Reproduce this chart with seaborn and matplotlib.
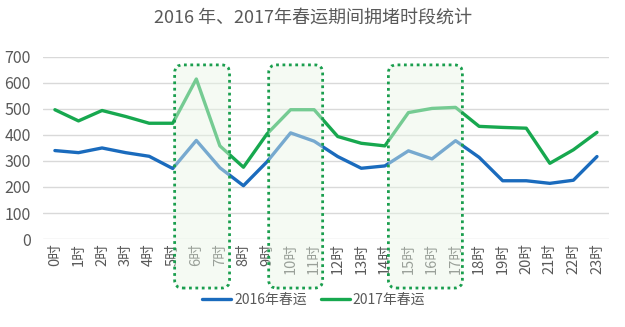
import matplotlib
matplotlib.use("Agg")
import matplotlib.pyplot as plt
import numpy as np
import pandas as pd
import seaborn as sns
from matplotlib.patches import FancyBboxPatch

hours = [f"{h}时" for h in range(24)]
y2016 = [340, 332, 350, 332, 318, 271, 379, 274, 205, 297, 408, 376,
         317, 272, 281, 339, 308, 378, 314, 224, 224, 214, 226, 317]
y2017 = [497, 454, 494, 471, 445, 445, 615, 358, 276, 404, 497, 497,
         394, 368, 358, 486, 502, 506, 433, 429, 426, 291, 343, 410]
series = ["2016年春运", "2017年春运"]
colors = ["#1a6bbd", "#17a84f"]
yticks = [0, 100, 200, 300, 400, 500, 600, 700]
highlight_spans = [(5.08, 7.41), (9.07, 11.36), (14.15, 17.29)]

sns.set_theme(style="whitegrid")
plt.rcParams["font.family"] = ["Noto Sans CJK SC", "DejaVu Sans"]

df = pd.DataFrame({
    "hour": list(range(24)) * 2,
    "value": y2016 + y2017,
    "series": [series[0]] * 24 + [series[1]] * 24,
})

fig = plt.figure(figsize=(6.25, 3.27), dpi=100)
ax = fig.add_axes([0.069, 0.269, 0.905, 0.557])
sns.lineplot(data=df, x="hour", y="value", hue="series", palette=colors,
             linewidth=2.4, ax=ax, legend=True)

ax.set_xlim(-0.5, 23.5)
ax.set_ylim(0, 700)
ax.set_yticks(yticks)
ax.set_xticks(range(24))
ax.set_xticklabels(hours, rotation=90, fontsize=10.5, color="#595959")
ax.tick_params(axis="y", labelsize=11.5, labelcolor="#595959", pad=9, length=0)
ax.tick_params(axis="x", pad=3, length=0)
ax.set_xlabel("")
ax.set_ylabel("")
ax.grid(axis="y", color="#d9d9d9", linewidth=1)
ax.grid(axis="x", visible=False)
for s in ax.spines.values():
    s.set_visible(False)

# highlight boxes
fig.canvas.draw()
x_per_px = 24 / ax.get_window_extent().width
y_per_px = 700 / ax.get_window_extent().height
aspect = y_per_px / x_per_px
ytop = 700 - 8 * y_per_px
ybot = -49 * y_per_px
for (x0, x1) in highlight_spans:
    p = FancyBboxPatch((x0, ybot), x1 - x0, ytop - ybot,
                       boxstyle=f"round,pad=0,rounding_size={8 * x_per_px}",
                       mutation_aspect=aspect,
                       facecolor="#e9f6e6", alpha=0.45, edgecolor="none",
                       clip_on=False, zorder=5, transform=ax.transData)
    ax.add_patch(p)
    e = FancyBboxPatch((x0, ybot), x1 - x0, ytop - ybot,
                       boxstyle=f"round,pad=0,rounding_size={8 * x_per_px}",
                       mutation_aspect=aspect,
                       facecolor="none", edgecolor="#1a9e4e", linewidth=2,
                       linestyle=(0, (1, 1.3)),
                       clip_on=False, zorder=6, transform=ax.transData)
    ax.add_patch(e)

handles, labels = ax.get_legend_handles_labels()
ax.legend(handles, labels, loc="center", bbox_to_anchor=(0.502, 0.083),
          bbox_transform=fig.transFigure, ncol=2, frameon=False,
          fontsize=10, handlelength=2.1, columnspacing=1.0,
          labelcolor="#595959", handletextpad=0.2)

fig.text(0.5, 0.945, "2016 年、2017年春运期间拥堵时段统计", ha="center",
         va="center", fontsize=13, color="#595959")

fig.savefig("out.png", dpi=100)
